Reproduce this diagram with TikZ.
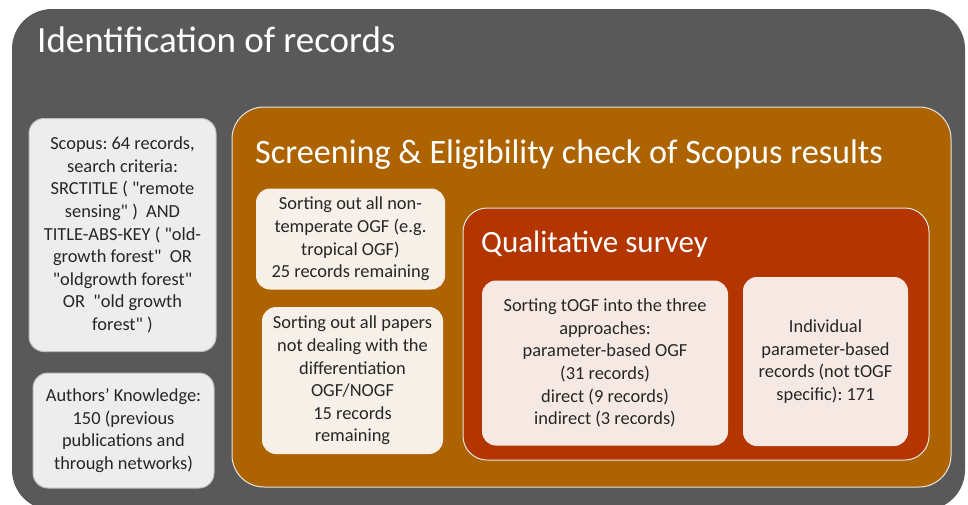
\documentclass[tikz,border=0pt]{standalone}
\usepackage{fontspec}
\setmainfont{Carlito}[Ligatures=TeXOff]
\definecolor{panelgray}{HTML}{595959}
\definecolor{screenorange}{HTML}{AD6300}
\definecolor{surveyred}{HTML}{B33500}
\definecolor{cardgray}{HTML}{EDEDED}
\definecolor{cardcream}{HTML}{F6F0E8}
\definecolor{cardpink}{HTML}{F6E9E4}
\definecolor{inktext}{HTML}{262626}
\begin{document}
\frenchspacing
\begin{tikzpicture}[x=1pt,y=-1pt,
  panel/.style={rectangle, inner sep=0pt, outer sep=0pt},
  frame/.style={panel, draw=white!90!black, line width=1pt},
  card/.style={panel, rounded corners=15pt, text=inktext, align=center,
    font=\fontsize{18.4}{22.6}\selectfont},
  heading/.style={anchor=base west, inner sep=0pt, text=white}]
\useasboundingbox (0,0) rectangle (968,504);
\clip (0,0) rectangle (968,504);

% nested stages
\node[panel, fill=panelgray, rounded corners=40pt,
  minimum width=953pt, minimum height=501pt] (ident) at (488.5,259.5) {};
\node[frame, fill=screenorange, rounded corners=32pt,
  minimum width=719pt, minimum height=380pt] (screen) at (591.5,297) {};
\node[frame, fill=surveyred, rounded corners=24pt,
  minimum width=466pt, minimum height=252pt] (survey) at (696,334) {};

% stage headings
\node[heading, font=\fontsize{37}{44}\selectfont] (identtitle) at (37,52) {Identification of records};
\node[heading, font=\fontsize{34.2}{40}\selectfont] (screentitle) at (255,163) {Screening \& Eligibility check of Scopus results};
\node[heading, font=\fontsize{31}{37}\selectfont] (surveytitle) at (481,252) {Qualitative survey};

% identification sources
\node[card, fill=cardgray, draw=white!75!black, line width=1pt,
  minimum width=187pt, minimum height=233pt] (scopus) at (122.5,235)
  {Scopus: 64 records,\\ search criteria:\\ SRCTITLE ( "remote\\ sensing" )\ \ AND\\
   TITLE-ABS-KEY ( "old-\\ growth forest"\ \ OR\\ "oldgrowth forest"\\ OR\ \ "old growth\\ forest" )};
\node[card, fill=cardgray, draw=white!75!black, line width=1pt,
  minimum width=181pt, minimum height=115pt] (authors) at (123.5,430.5)
  {Authors’ Knowledge:\\ 150 (previous\\ publications and\\ through networks)};

% screening steps
\node[card, fill=cardcream, rounded corners=14pt,
  minimum width=189pt, minimum height=101pt] (temperate) at (350.5,239)
  {Sorting out all non-\\ temperate OGF (e.g.\\ tropical OGF)\\ 25 records remaining};
\node[card, fill=cardcream, rounded corners=14pt,
  minimum width=181pt, minimum height=147pt] (differ) at (352.5,380.5)
  {Sorting out all papers\\ not dealing with the\\ differentiation\\ OGF/NOGF\\ 15 records\\ remaining};

% survey results
\node[card, fill=cardpink, rounded corners=14pt,
  minimum width=246pt, minimum height=165pt] (approach) at (605,363)
  {Sorting tOGF into the three\\ approaches:\\ parameter-based OGF\\ (31 records)\\ direct (9 records)\\ indirect (3 records)};
\node[card, fill=cardpink, rounded corners=14pt,
  minimum width=165pt, minimum height=169pt] (individual) at (825.5,361.5)
  {Individual\\ parameter-based\\ records (not tOGF\\ specific): 171};
\end{tikzpicture}
\end{document}
